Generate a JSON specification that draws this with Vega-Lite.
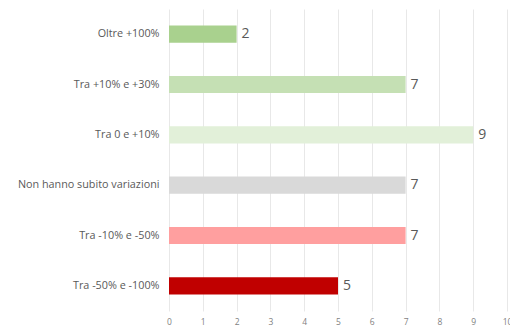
{
  "$schema": "https://vega.github.io/schema/vega-lite/v6.json",
  "autosize": {"type": "none"},
  "width": 338,
  "height": 302,
  "padding": {"left": 169, "top": 9, "right": 3, "bottom": 16},
  "background": "white",
  "config": {"view": {"stroke": null}, "font": "Open Sans"},
  "data": {"values": [
    {"cat": "Oltre +100%", "v": 2, "col": "#a9d18e"},
    {"cat": "Tra +10% e +30%", "v": 7, "col": "#c5e0b4"},
    {"cat": "Tra 0 e +10%", "v": 9, "col": "#e2f0d9"},
    {"cat": "Non hanno subito variazioni", "v": 7, "col": "#d9d9d9"},
    {"cat": "Tra -10% e -50%", "v": 7, "col": "#ff9f9f"},
    {"cat": "Tra -50% e -100%", "v": 5, "col": "#c00000"}
  ]},
  "encoding": {
    "y": {"field": "cat", "type": "nominal", "sort": null,
      "scale": {"paddingInner": 0.66, "paddingOuter": 0.33},
      "axis": {"title": null, "domain": false, "ticks": false, "labelPadding": 10, "labelFontSize": 10.8, "labelColor": "#595959", "labelFont": "Open Sans"}},
    "x": {"field": "v", "type": "quantitative",
      "scale": {"domain": [0, 10], "nice": false},
      "axis": {"title": null, "domain": false, "ticks": false, "values": [0,1,2,3,4,5,6,7,8,9,10], "labelFontSize": 8.5, "labelColor": "#7f7f7f", "labelPadding": 6, "labelBound": false, "labelOverlap": false, "labelFlush": false, "gridColor": "#e8e8e8"}}
  },
  "layer": [
    {"mark": {"type": "bar"}, "encoding": {"color": {"field": "col", "type": "nominal", "scale": null}}},
    {"mark": {"type": "text", "align": "left", "dx": 5, "fontSize": 14, "color": "#595959"}, "encoding": {"text": {"field": "v"}}}
  ]
}
